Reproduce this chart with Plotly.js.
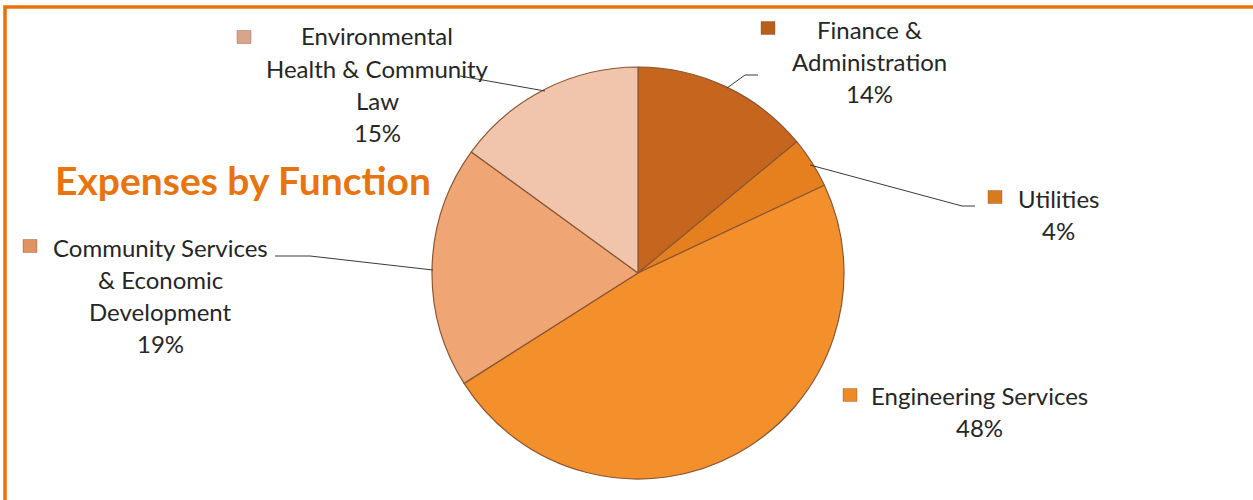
<!DOCTYPE html>
<html>
<head>
<meta charset="utf-8">
<script src="https://cdn.plot.ly/plotly-3.0.1.min.js"></script>
<style>
  html, body { margin: 0; padding: 0; background: #ffffff; }
  #chart { width: 1253px; height: 500px; }
</style>
</head>
<body>
<div id="chart"></div>
<script>
// ---- data ----
const categories = [
  "Finance & Administration",
  "Utilities",
  "Engineering Services",
  "Community Services & Economic Development",
  "Environmental Health & Community Law"
];
const values = [14, 4, 48, 19, 15];
const labelLines = [
  ["Finance &", "Administration"],
  ["Utilities"],
  ["Engineering Services"],
  ["Community Services", "& Economic", "Development"],
  ["Environmental", "Health & Community", "Law"]
];
const sliceColors = ["#C6661E", "#E6801F", "#F4902C", "#F0A575", "#F1C5AC"];
const markerColors = ["#B95F1C", "#DA7A1F", "#EE8A25", "#E0925F", "#D9A48B"];
const chartTitle = "Expenses by Function";

// ---- layout helpers (pixel positions of label blocks) ----
const W = 1253, H = 500;
const px = x => x / W;
const py = y => 1 - y / H;

// label block: centre x, first line y, marker centre x/y
const labelPos = [
  { cx: 869, y0: 29, mx: 768, my: 28, line: [[727, 88], [745, 75], [758, 75]] },
  { cx: 1058, y0: 198, mx: 995, my: 197, line: [[810, 165], [962, 206], [975, 206]] },
  { cx: 980, y0: 395, mx: 850, my: 395, line: null },
  { cx: 160, y0: 247, mx: 30, my: 246, line: [[433, 270], [310, 256], [275, 256]] },
  { cx: 377, y0: 36, mx: 244, my: 37, line: [[545, 91], [460, 76]] }
];
const lineGap = 32.3;

const pieCx = 638, pieCy = 273, pieR = 206;

const annotations = [];
const shapes = [];

labelPos.forEach((p, i) => {
  const lines = labelLines[i].concat([values[i] + "%"]);
  lines.forEach((t, k) => {
    annotations.push({
      xref: "paper", yref: "paper",
      x: px(p.cx), y: py(p.y0 + k * lineGap),
      xanchor: "center", yanchor: "middle",
      text: t, showarrow: false,
      font: { family: "Lato, 'Open Sans', sans-serif", size: 24, color: "#262626" }
    });
  });
  shapes.push({
    type: "rect", xref: "paper", yref: "paper",
    x0: px(p.mx - 7), x1: px(p.mx + 7), y0: py(p.my + 6.5), y1: py(p.my - 6.5),
    fillcolor: markerColors[i], line: { color: "rgba(120,70,40,0.35)", width: 1 }
  });
  if (p.line) {
    const d = p.line.map((pt, j) => (j === 0 ? "M " : "L ") + px(pt[0]) + "," + py(pt[1])).join(" ");
    shapes.push({
      type: "path", xref: "paper", yref: "paper", path: d,
      line: { color: "#3a3a3a", width: 1 }
    });
  }
});

// big left title
annotations.push({
  xref: "paper", yref: "paper",
  x: px(53), y: py(180), xanchor: "left", yanchor: "middle",
  text: "<b>" + chartTitle + "</b>", showarrow: false,
  font: { family: "Lato, 'Open Sans', sans-serif", size: 39, color: "#E8740F" }
});

// orange frame
shapes.push({
  type: "rect", xref: "paper", yref: "paper",
  x0: px(5), x1: px(1265), y0: py(515), y1: py(7),
  line: { color: "#E8720C", width: 3.5 }, fillcolor: "rgba(0,0,0,0)", layer: "below"
});

const trace = {
  type: "pie",
  labels: categories,
  values: values,
  sort: false,
  direction: "clockwise",
  rotation: 0,
  textinfo: "none",
  hoverinfo: "label+percent",
  showlegend: false,
  marker: { colors: sliceColors, line: { color: "#8a5634", width: 1.2 } },
  domain: {
    x: [px(pieCx - pieR), px(pieCx + pieR)],
    y: [py(pieCy + pieR), py(pieCy - pieR)]
  }
};

const layout = {
  width: W, height: H,
  margin: { l: 0, r: 0, t: 0, b: 0 },
  paper_bgcolor: "#ffffff",
  plot_bgcolor: "#ffffff",
  showlegend: false,
  annotations: annotations,
  shapes: shapes
};

Plotly.newPlot("chart", [trace], layout, { displayModeBar: false, staticPlot: true });
</script>
</body>
</html>
